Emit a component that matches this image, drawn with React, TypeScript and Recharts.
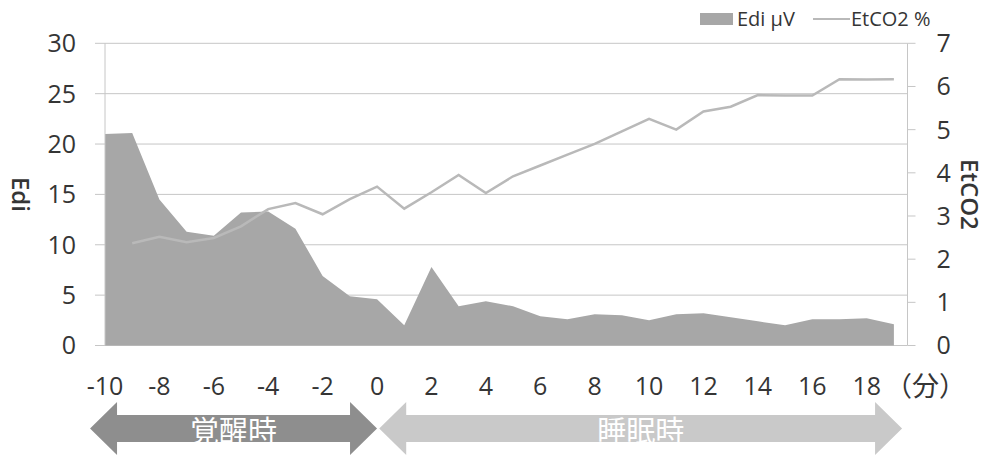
import React from 'react';
import { ComposedChart, Area, Line, XAxis, YAxis, CartesianGrid, Legend } from 'recharts';

// Time in minutes relative to sleep onset
const minutes = [-10, -9, -8, -7, -6, -5, -4, -3, -2, -1, 0, 1, 2, 3, 4, 5, 6, 7, 8, 9, 10, 11, 12, 13, 14, 15, 16, 17, 18, 19];
// Diaphragm electrical activity (µV)
const ediValues = [21.0, 21.1, 14.5, 11.3, 10.9, 13.2, 13.3, 11.6, 6.9, 4.9, 4.6, 2.0, 7.8, 3.9, 4.4, 3.9, 2.9, 2.6, 3.1, 3.0, 2.5, 3.1, 3.2, 2.8, 2.4, 2.0, 2.6, 2.6, 2.7, 2.1];
// End-tidal CO2 (%)
const etco2Values = [null, 2.37, 2.52, 2.39, 2.49, 2.76, 3.16, 3.3, 3.04, 3.39, 3.68, 3.17, 3.55, 3.95, 3.53, 3.92, 4.17, 4.42, 4.67, 4.96, 5.25, 5.0, 5.42, 5.53, 5.8, 5.79, 5.79, 6.17, 6.16, 6.17];

const minuteTicks = [-10, -8, -6, -4, -2, 0, 2, 4, 6, 8, 10, 12, 14, 16, 18];
const ediTicks = [0, 5, 10, 15, 20, 25, 30];
const etco2Ticks = [0, 1, 2, 3, 4, 5, 6, 7];

// Wake / sleep phases shown as double-headed arrows under the time axis
const phaseLabels = ['覚醒時', '睡眠時'];
const phaseStarts = [-10.55, 0.08];
const phaseEnds = [0, 19.3];
const phaseColors = ['#8e8e8e', '#c9c9c9'];

const data = minutes.map((t, i) => ({ t, edi: ediValues[i], etco2: etco2Values[i] }));

const W = 988;
const H = 456;
const MARGIN = { top: 43.3, right: 0, bottom: 80.5, left: 0 };
const LEFT_AXIS_W = 105;
const RIGHT_AXIS_W = 80.5;
const X_AXIS_H = 30;
const X_DOMAIN: [number, number] = [-10, 19.5];

const plotLeft = MARGIN.left + LEFT_AXIS_W;
const plotWidth = W - MARGIN.right - RIGHT_AXIS_W - plotLeft;
const xPos = (v: number) => plotLeft + ((v - X_DOMAIN[0]) / (X_DOMAIN[1] - X_DOMAIN[0])) * plotWidth;

const FONT = "'Open Sans', 'Noto Sans', sans-serif";
const CJK = "'Noto Sans CJK JP', 'Noto Sans CJK SC', sans-serif";
const TEXT = '#353535';
const GRID = '#c6c6c6';
const AREA_FILL = '#a7a7a7';
const LINE_STROKE = '#b9b9b9';

const tickStyle = { fill: TEXT, fontSize: 25, fontFamily: FONT };

const LegendContent = (props: any) => {
  const items = props.payload || [];
  return (
    <div style={{ display: 'flex', alignItems: 'center', fontFamily: FONT, fontSize: 20, color: TEXT, whiteSpace: 'nowrap', lineHeight: '26px' }}>
      {items.map((it: any, i: number) => (
        <div key={i} style={{ display: 'flex', alignItems: 'center', marginLeft: i === 0 ? 0 : 18 }}>
          {it.type === 'line' ? (
            <span style={{ display: 'inline-block', width: 37, height: 0, borderTop: `2px solid ${LINE_STROKE}`, marginRight: 1 }} />
          ) : (
            <span style={{ display: 'inline-block', width: 33, height: 12, background: AREA_FILL, marginRight: 4 }} />
          )}
          <span>{it.value}</span>
        </div>
      ))}
    </div>
  );
};

const PhaseArrows = () => {
  const top = 402;
  const bottom = 455;
  const shaftTop = 415;
  const shaftBottom = 442;
  const mid = (top + bottom) / 2;
  const head = 27;
  return (
    <svg width={W} height={H} style={{ position: 'absolute', left: 0, top: 0, pointerEvents: 'none' }}>
      {phaseLabels.map((label, i) => {
        const x0 = xPos(phaseStarts[i]);
        const x1 = xPos(phaseEnds[i]);
        const d = [
          `M${x0},${mid}`,
          `L${x0 + head},${top}`,
          `L${x0 + head},${shaftTop}`,
          `L${x1 - head},${shaftTop}`,
          `L${x1 - head},${top}`,
          `L${x1},${mid}`,
          `L${x1 - head},${bottom}`,
          `L${x1 - head},${shaftBottom}`,
          `L${x0 + head},${shaftBottom}`,
          `L${x0 + head},${bottom}`,
          'Z',
        ].join(' ');
        return (
          <g key={label}>
            <path d={d} fill={phaseColors[i]} />
            <text x={(x0 + x1) / 2} y={mid} textAnchor="middle" dominantBaseline="central" fill="#ffffff" fontSize={29} fontFamily={CJK}>
              {label}
            </text>
          </g>
        );
      })}
    </svg>
  );
};

export default function App() {
  return (
    <div style={{ position: 'fixed', left: 0, top: 0, width: W, height: H, background: '#ffffff', overflow: 'hidden' }}>
      <ComposedChart width={W} height={H} data={data} margin={MARGIN}>
        <CartesianGrid yAxisId="left" horizontal vertical={false} stroke={GRID} />
        <XAxis
          dataKey="t"
          type="number"
          domain={X_DOMAIN}
          ticks={minuteTicks}
          height={X_AXIS_H}
          axisLine={false}
          tickLine={false}
          tickSize={0}
          tickMargin={32}
          tick={tickStyle}
          interval={0}
          label={{
            content: (p: any) => {
              const vb = p.viewBox || {};
              return (
                <text x={vb.x + vb.width + 18} y={384} textAnchor="middle" dominantBaseline="central" fill={TEXT} fontSize={27} fontFamily={CJK}>
                  （分）
                </text>
              );
            },
          }}
        />
        <YAxis
          yAxisId="left"
          orientation="left"
          width={LEFT_AXIS_W}
          domain={[0, 30]}
          ticks={ediTicks}
          interval={0}
          tick={tickStyle}
          tickSize={10}
          tickMargin={19}
          axisLine={{ stroke: GRID }}
          tickLine={{ stroke: GRID }}
          label={{
            content: (p: any) => {
              const vb = p.viewBox || {};
              const cx = vb.x + 21;
              const cy = vb.y + vb.height / 2;
              return (
                <text x={cx} y={cy} transform={`rotate(90, ${cx}, ${cy})`} textAnchor="middle" dominantBaseline="central" fill={TEXT} fontSize={24} fontWeight={600} fontFamily={FONT}>
                  Edi
                </text>
              );
            },
          }}
        />
        <YAxis
          yAxisId="right"
          orientation="right"
          width={RIGHT_AXIS_W}
          domain={[0, 7]}
          ticks={etco2Ticks}
          interval={0}
          tick={tickStyle}
          tickSize={8}
          tickMargin={21}
          axisLine={{ stroke: GRID }}
          tickLine={{ stroke: GRID }}
          label={{
            content: (p: any) => {
              const vb = p.viewBox || {};
              const cx = vb.x + 63;
              const cy = vb.y + vb.height / 2;
              return (
                <text x={cx} y={cy} transform={`rotate(90, ${cx}, ${cy})`} textAnchor="middle" dominantBaseline="central" fill={TEXT} fontSize={24} fontWeight={600} fontFamily={FONT}>
                  EtCO2
                </text>
              );
            },
          }}
        />
        <Legend
          layout="vertical"
          align="center"
          verticalAlign="middle"
          wrapperStyle={{ top: 6, left: 700, width: 280 }}
          content={<LegendContent />}
        />
        <Area
          yAxisId="left"
          type="linear"
          dataKey="edi"
          name="Edi μV"
          fill={AREA_FILL}
          fillOpacity={1}
          stroke="none"
          legendType="rect"
          isAnimationActive={false}
        />
        <Line
          yAxisId="right"
          type="linear"
          dataKey="etco2"
          name="EtCO2 %"
          stroke={LINE_STROKE}
          strokeWidth={2.5}
          dot={false}
          activeDot={false}
          legendType="line"
          isAnimationActive={false}
        />
      </ComposedChart>
      <PhaseArrows />
    </div>
  );
}
